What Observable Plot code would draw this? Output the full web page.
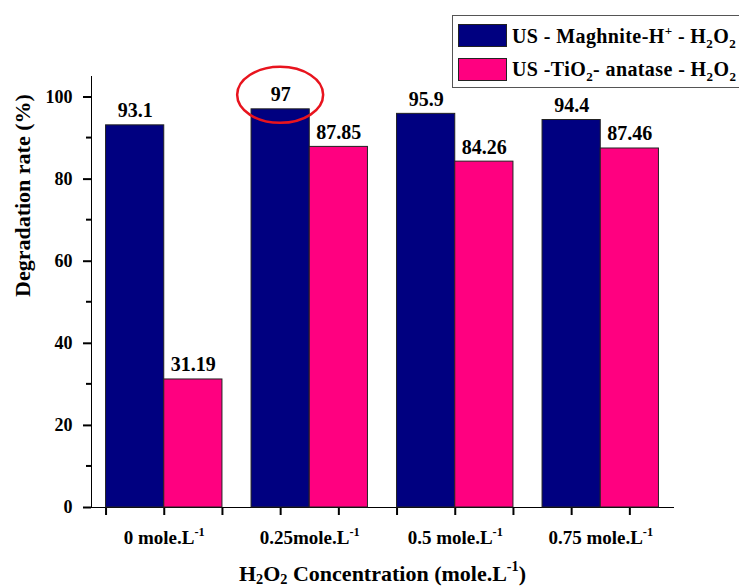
<!DOCTYPE html>
<html><head><meta charset="utf-8">
<script src="https://cdn.jsdelivr.net/npm/d3@7"></script>
<script src="https://cdn.jsdelivr.net/npm/@observablehq/plot@0.6"></script>
<style>
html,body{margin:0;padding:0;background:#fff;overflow:hidden;width:739px;height:586px;}
#wrap{position:relative;width:739px;height:586px;overflow:hidden;font-family:"Liberation Serif","Times New Roman",serif;font-weight:bold;color:#000;}
#legend{position:absolute;left:452px;top:15px;width:300px;height:71px;border:1.5px solid #555;background:#fff;}
.sw{position:absolute;left:5px;width:49px;height:23px;border:1px solid #222;box-sizing:border-box;}
.lt{position:absolute;left:59px;font-size:20px;line-height:20px;white-space:nowrap;letter-spacing:0.4px;}
.lt sub,.lt sup{font-size:65%;line-height:0;}
svg g[aria-label*="axis"] line, svg g[aria-label*="axis"] path{stroke-width:2px;stroke:#000;}
</style>
</head><body>
<div id="wrap"><div id="chart"></div><div id="legend"></div></div>
<script>
// ---- data ----
const categories = ["0 mole.L⁻¹", "0.25mole.L⁻¹", "0.5 mole.L⁻¹", "0.75 mole.L⁻¹"];
const series = ["US - Maghnite-H⁺ - H₂O₂", "US -TiO₂- anatase - H₂O₂"];
const maghnite = [93.1, 97, 95.9, 94.4];
const tio2 = [31.19, 87.85, 84.26, 87.46];
const yTicks = [0, 20, 40, 60, 80, 100];
const yMinorTicks = [10, 30, 50, 70, 90];
const xTicks = [-0.4, 0, 0.4, 0.8, 1.2, 1.6, 2, 2.4, 2.8, 3.2];
const colors = ["#000080", "#FF0080"];
const xTitle = "H₂O₂ Concentration (mole.L⁻¹)";
const yTitle = "Degradation rate (%)";
const highlight = {category: 1, series: 0};

const barWidth = 0.4;
const rows = categories.flatMap((c, i) => [maghnite, tio2].map((vals, s) => {
  const x1 = i + (s - 1) * barWidth;
  return {i, s, name: series[s], v: vals[i], x1, x2: x1 + barWidth};
}));

const supMap = {"⁻": "-", "¹": "1", "⁺": "+"};
const subMap = {"₂": "2"};
function runs(str) {
  const out = [];
  for (const ch of str) {
    const kind = supMap[ch] ? "sup" : subMap[ch] ? "sub" : "n";
    const c = supMap[ch] || subMap[ch] || ch;
    if (out.length && out[out.length - 1].kind === kind) out[out.length - 1].t += c;
    else out.push({kind, t: c});
  }
  return out;
}
function richHTML(str) {
  return runs(str).map(r => r.kind === "n" ? r.t : `<${r.kind}>${r.t}</${r.kind}>`).join("");
}
function richSVG(el) {
  const s = el.textContent;
  if (!/[⁻¹⁺₂]/.test(s)) return;
  const fs = parseFloat(getComputedStyle(el).fontSize) || 18;
  while (el.firstChild) el.removeChild(el.firstChild);
  let shift = 0;
  for (const r of runs(s)) {
    const t = document.createElementNS("http://www.w3.org/2000/svg", "tspan");
    const target = r.kind === "sup" ? -0.42 * fs : r.kind === "sub" ? 0.14 * fs : 0;
    t.setAttribute("dy", target - shift);
    shift = target;
    if (r.kind !== "n") t.setAttribute("font-size", (0.65 * fs) + "px");
    t.textContent = r.t;
    el.appendChild(t);
  }
}

const plot = Plot.plot({
  width: 739, height: 586,
  marginLeft: 91, marginRight: 66, marginTop: 76, marginBottom: 79,
  style: {fontFamily: "Liberation Serif, Times New Roman, serif", fontWeight: "bold", fontSize: "18px", color: "#000", background: "transparent"},
  x: {domain: [-0.5, 3.5], ticks: xTicks, tickFormat: () => "", tickSize: 8, line: true, label: null},
  y: {domain: [0, 105], ticks: yTicks, tickSize: 8, tickPadding: 11, line: true, label: null},
  color: {domain: series, range: colors},
  marks: [
    Plot.rectY(rows, {x1: "x1", x2: "x2", y: "v", fill: "name", stroke: "#222", strokeWidth: 1}),
    Plot.text(rows, {x: d => (d.x1 + d.x2) / 2, y: "v", text: d => String(d.v), dy: -8, lineAnchor: "bottom", fontSize: 20, fill: "#000"}),
    Plot.text(categories, {x: (d, i) => i, text: d => d, frameAnchor: "bottom", dy: 30, lineAnchor: "middle", fontSize: 19}),
    Plot.text([yTitle], {text: d => d, frameAnchor: "left", dx: -69, dy: 5, rotate: -90, lineAnchor: "middle", fontSize: 22}),
    Plot.text([xTitle], {text: d => d, frameAnchor: "bottom", dy: 66, lineAnchor: "middle", fontSize: 22}),
    (index, scales, values, dims) => {
      const g = d3.create("svg:g");
      for (const v of yMinorTicks) {
        const y = scales.y(v);
        g.append("line").attr("x1", dims.marginLeft - 5).attr("x2", dims.marginLeft)
          .attr("y1", y).attr("y2", y).attr("stroke", "#000").attr("stroke-width", 2);
      }
      return g.node();
    },
    (index, scales, values, dims) => {
      const vals = highlight.series === 0 ? maghnite : tio2;
      const cx = scales.x(highlight.category + (highlight.series - 1) * barWidth + barWidth / 2);
      const cy = scales.y(vals[highlight.category]) - 14;
      return d3.create("svg:ellipse").attr("cx", cx).attr("cy", cy).attr("rx", 43).attr("ry", 28)
        .attr("fill", "none").attr("stroke", "#E8141E").attr("stroke-width", 2.5).node();
    }
  ]
});
document.getElementById("chart").appendChild(plot);
plot.querySelectorAll("text").forEach(richSVG);

const legend = document.getElementById("legend");
series.forEach((s, k) => {
  const sw = document.createElement("div");
  sw.className = "sw";
  sw.style.top = (7.5 + 34 * k) + "px";
  sw.style.background = colors[k];
  legend.appendChild(sw);
  const lt = document.createElement("div");
  lt.className = "lt";
  lt.style.top = (9.5 + 33.5 * k) + "px";
  lt.innerHTML = richHTML(s);
  legend.appendChild(lt);
});
</script>
</body></html>
